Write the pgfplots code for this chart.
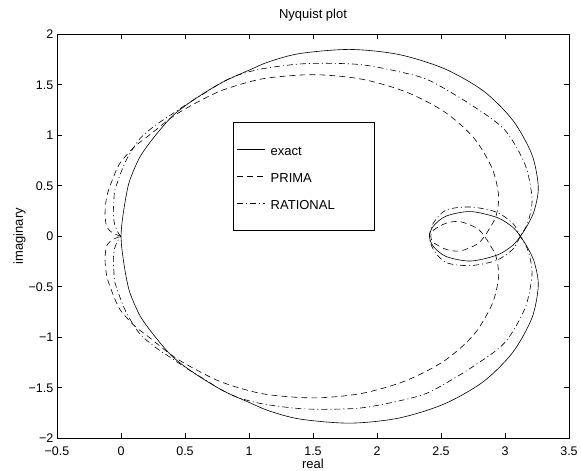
\documentclass[border=0pt]{standalone}
\usepackage{pgfplots}
\pgfplotsset{compat=1.18}
\usepackage{fontspec}
\setmainfont{Liberation Sans}

\begin{document}
\begin{tikzpicture}
\begin{axis}[
    at={(0pt,0pt)}, anchor=south west,
    scale only axis, width=512pt, height=404pt,
    xmin=-0.5, xmax=3.5, ymin=-2, ymax=2,
    xtick={-0.5,0,0.5,1,1.5,2,2.5,3,3.5},
    ytick={-2,-1.5,-1,-0.5,0,0.5,1,1.5,2},
    xticklabels={−0.5,0,0.5,1,1.5,2,2.5,3,3.5},
    yticklabels={−2,−1.5,−1,−0.5,0,0.5,1,1.5,2},
    xtick pos=both, ytick pos=both,
    xticklabel pos=lower, yticklabel pos=left,
    tick align=inside, major tick length=5pt,
    tick style={black, line width=0.6pt},
    axis line style={line width=0.8pt},
    every tick label/.append style={font=\fontsize{12.5}{14}\selectfont},
    xticklabel style={anchor=base, yshift=-17pt},
    yticklabel style={anchor=east, inner sep=0pt, xshift=-3.5pt},
    title={Nyquist plot},
    title style={at={(0.5,1)}, anchor=base, yshift=10pt, font=\fontsize{13}{15}\selectfont},
    xlabel={real},
    xlabel style={at={(0.5,0)}, anchor=base, yshift=-30pt, font=\fontsize{13}{15}\selectfont},
    ylabel={imaginary},
    ylabel style={at={(-0.0664,0.5)}, anchor=base, font=\fontsize{13}{15}\selectfont},
    legend style={at={(0.344,0.784)}, anchor=north west, draw=black, line width=0.6pt,
        inner xsep=3.7pt, inner ysep=18pt, row sep=8.7pt,
        nodes={text height=16pt, text depth=2.3pt, inner ysep=0pt, inner xsep=5pt},
        font=\fontsize{13}{15}\selectfont},
    legend cell align=left,
    legend image code/.code={\draw[#1] (0pt,0pt) -- (28pt,0pt);},
]

% exact
\addplot[black, line width=0.6pt, smooth] coordinates {
(0,0) (0.005,0.10) (0.018,0.23) (0.04,0.40) (0.07,0.56) (0.15,0.79) (0.27,1.00)
(0.41,1.20) (0.59,1.37) (0.80,1.53) (1.01,1.65) (1.16,1.73) (1.40,1.81) (1.79,1.85)
(2.17,1.80) (2.525,1.66) (2.83,1.44) (3.06,1.15) (3.21,0.81) (3.26,0.49)
(3.23,0.26) (3.18,0.12) (3.12,0) (3.06,-0.09) (2.94,-0.185) (2.73,-0.245) (2.54,-0.20)
(2.44,-0.10) (2.41,0) (2.44,0.10) (2.54,0.20) (2.73,0.245) (2.94,0.185) (3.06,0.09)
(3.12,0) (3.18,-0.12) (3.23,-0.26) (3.26,-0.49) (3.21,-0.81) (3.06,-1.15) (2.83,-1.44)
(2.525,-1.66) (2.17,-1.80) (1.79,-1.85) (1.40,-1.81) (1.16,-1.73) (1.01,-1.65)
(0.80,-1.53) (0.59,-1.37) (0.41,-1.20) (0.27,-1.00) (0.15,-0.79) (0.07,-0.56) (0.04,-0.40)
(0.018,-0.23) (0.005,-0.10) (0,0)
};
\addlegendentry{exact}

% PRIMA
\addplot[black, line width=0.6pt, smooth, dash pattern=on 6pt off 4pt] coordinates {
(0,0) (-0.06,0.03) (-0.11,0.09) (-0.125,0.23) (-0.11,0.40) (-0.07,0.55) (-0.01,0.72)
(0.10,0.88) (0.23,1.01) (0.41,1.19) (0.60,1.33) (0.80,1.45) (1.11,1.56) (1.50,1.60)
(1.875,1.557) (2.225,1.43) (2.525,1.234) (2.756,0.975) (2.90,0.67) (2.95,0.40)
(2.93,0.20) (2.88,0.08) (2.84,0) (2.78,-0.08) (2.65,-0.145) (2.54,-0.13) (2.44,-0.06)
(2.42,0) (2.44,0.06) (2.54,0.13) (2.65,0.145) (2.78,0.08) (2.84,0) (2.88,-0.08)
(2.93,-0.20) (2.95,-0.40) (2.90,-0.67) (2.756,-0.975) (2.525,-1.234) (2.225,-1.43)
(1.875,-1.557) (1.50,-1.60) (1.11,-1.56) (0.80,-1.45) (0.60,-1.33) (0.41,-1.19) (0.23,-1.01)
(0.10,-0.88) (-0.01,-0.72) (-0.07,-0.55) (-0.11,-0.40) (-0.125,-0.23) (-0.11,-0.09)
(-0.06,-0.03) (0,0)
};
\addlegendentry{PRIMA}

% RATIONAL
\addplot[black, line width=0.6pt, smooth, dash pattern=on 6pt off 3pt on 1pt off 3pt] coordinates {
(0,0) (-0.02,0.03) (-0.05,0.12) (-0.06,0.23) (-0.055,0.35) (-0.047,0.46) (0.018,0.69)
(0.07,0.82) (0.15,0.97) (0.27,1.10) (0.41,1.22) (0.54,1.33) (0.67,1.43) (0.77,1.51)
(0.90,1.59) (1.11,1.66) (1.45,1.71) (1.87,1.70) (2.24,1.61) (2.43,1.53) (2.75,1.29)
(3.00,1.05) (3.157,0.71) (3.21,0.40) (3.20,0.24) (3.17,0.11) (3.12,0)
(3.06,-0.13) (2.93,-0.24) (2.73,-0.29) (2.54,-0.26) (2.44,-0.13) (2.41,0) (2.44,0.13)
(2.54,0.26) (2.73,0.29) (2.93,0.24) (3.06,0.13) (3.12,0) (3.17,-0.11) (3.20,-0.24)
(3.21,-0.40) (3.157,-0.71) (3.00,-1.05) (2.75,-1.29) (2.43,-1.53) (2.24,-1.61)
(1.87,-1.70) (1.45,-1.71) (1.11,-1.66) (0.90,-1.59) (0.77,-1.51) (0.67,-1.43) (0.54,-1.33)
(0.41,-1.22) (0.27,-1.10) (0.15,-0.97) (0.07,-0.82) (0.018,-0.69) (-0.047,-0.46)
(-0.055,-0.35) (-0.06,-0.23) (-0.05,-0.12) (-0.02,-0.03) (0,0)
};
\addlegendentry{\makebox[95pt][l]{RATIONAL}}

\end{axis}
\pgfresetboundingbox
\useasboundingbox (-57pt,-32pt) rectangle (524pt,438.3pt);
\end{tikzpicture}
\end{document}
